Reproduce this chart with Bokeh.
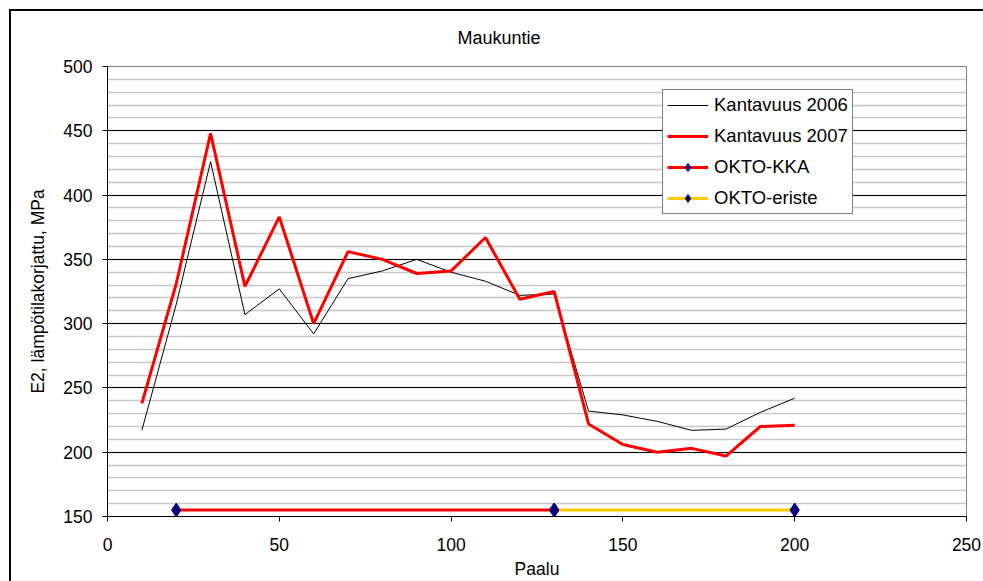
from bokeh.plotting import figure
from bokeh.models import (Range1d, SingleIntervalTicker, Legend, LegendItem)
from bokeh.embed import file_html
from bokeh.resources import INLINE

# Paalu stations (m)
paalu = [10, 20, 30, 40, 50, 60, 70, 80, 90, 100,
         110, 120, 130, 140, 150, 160, 170, 180, 190, 200]

# E2 bearing capacity, temperature corrected (MPa)
kantavuus_2006 = [217, 315, 426, 307, 327, 292, 335, 341, 350, 340,
                  333, 322, 323, 232, 229, 224, 217, 218, 231, 242]
kantavuus_2007 = [238, 331, 448, 329, 383, 300, 356, 350, 339, 341,
                  367, 319, 325, 222, 206, 200, 203, 197, 220, 221]

# structure sections
okto_kka_x = [20, 130]
okto_kka_y = [155, 155]
okto_eriste_x = [130, 200]
okto_eriste_y = [155, 155]

FONT = "Liberation Sans"

p = figure(width=983, height=581, output_backend="svg", toolbar_location=None,
           x_range=Range1d(0, 250), y_range=Range1d(150, 500),
           min_border_left=107, min_border_right=17,
           min_border_top=66, min_border_bottom=64,
           background_fill_color="white", border_fill_color="white")

# chart area border: top and left edges (it continues past the page)
p.stylesheets = [
    ":host { position: relative; }"
    ":host::before { content: ''; position: absolute; left: 9px; top: 9px;"
    " width: 974px; height: 2px; background: black; pointer-events: none;"
    " z-index: 5; }"
    ":host::after { content: ''; position: absolute; left: 9px; top: 9px;"
    " width: 2px; height: 572px; background: black; pointer-events: none;"
    " z-index: 5; }"
]

p.title.text = "Maukuntie"
p.title.text_font = FONT
p.title.text_font_size = "18px"
p.title.text_font_style = "normal"
p.title.text_color = "black"
p.title.align = "left"
p.title.offset = 350
p.title.standoff = 38

p.outline_line_color = "#808080"
p.outline_line_width = 1

# axes
p.xaxis.ticker = SingleIntervalTicker(interval=50, num_minor_ticks=0)
p.yaxis.ticker = SingleIntervalTicker(interval=50, num_minor_ticks=5)
p.xaxis.axis_label = "Paalu"
p.yaxis.axis_label = "E2, lämpötilakorjattu, MPa"
for ax in (p.xaxis[0], p.yaxis[0]):
    ax.axis_line_color = "black"
    ax.axis_line_width = 1
    ax.major_tick_line_color = "black"
    ax.major_tick_in = 0
    ax.major_tick_out = 5
    ax.minor_tick_in = 0
    ax.minor_tick_out = 0
    ax.major_label_text_font = FONT
    ax.major_label_text_font_size = "17.5px"
    ax.major_label_text_color = "black"
    ax.axis_label_text_font = FONT
    ax.axis_label_text_font_size = "17.5px"
    ax.axis_label_text_font_style = "normal"
    ax.axis_label_text_color = "black"
p.xaxis.major_label_standoff = 16
p.xaxis.axis_label_standoff = 5
p.yaxis.major_label_standoff = 10
p.yaxis.axis_label_standoff = 12

# grid
p.xgrid.visible = False
p.ygrid.grid_line_color = "black"
p.ygrid.grid_line_width = 1
p.ygrid.minor_grid_line_color = "#c8c8c8"
p.ygrid.minor_grid_line_width = 1.5

# series
r06 = p.line(paalu, kantavuus_2006, line_color="black", line_width=1)
r07 = p.line(paalu, kantavuus_2007, line_color="#ff0000", line_width=3)
rk_line = p.line(okto_kka_x, okto_kka_y, line_color="#ff0000", line_width=3)
re_line = p.line(okto_eriste_x, okto_eriste_y, line_color="#ffcc00", line_width=3)
rk_pts = p.scatter(okto_kka_x, okto_kka_y, marker="diamond", size=14,
                   fill_color="#000080", line_color="#000080")
re_pts = p.scatter(okto_eriste_x, okto_eriste_y, marker="diamond", size=14,
                   fill_color="#000080", line_color="#000080")

legend = Legend(items=[
    LegendItem(label="Kantavuus 2006", renderers=[r06]),
    LegendItem(label="Kantavuus 2007", renderers=[r07]),
    LegendItem(label="OKTO-KKA", renderers=[rk_line, rk_pts]),
    LegendItem(label="OKTO-eriste", renderers=[re_line, re_pts]),
], location=(555, 302))
legend.label_text_font = FONT
legend.label_text_font_size = "18.5px"
legend.label_text_color = "black"
legend.glyph_width = 41
legend.glyph_height = 20
legend.label_height = 20
legend.label_standoff = 6
legend.spacing = 9
legend.padding = 4
legend.margin = 0
legend.border_line_color = "black"
legend.border_line_width = 1
legend.background_fill_color = "white"
legend.background_fill_alpha = 1
p.add_layout(legend)

open("out.html", "w").write(file_html(p, INLINE))
